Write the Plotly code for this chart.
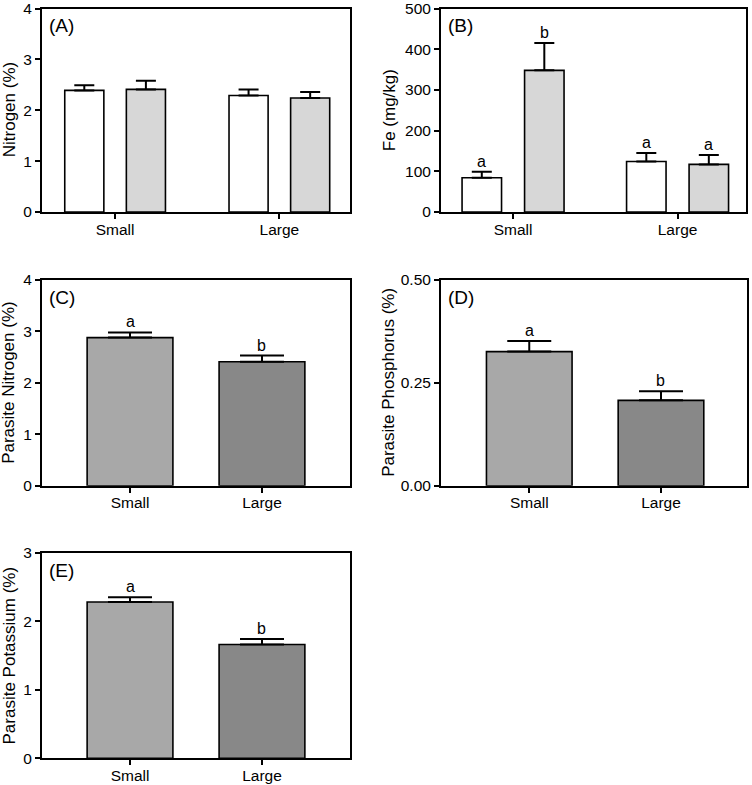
import plotly.graph_objects as go

W, H = 752, 785
FONT = "Liberation Sans, Arial, sans-serif"

categories = ["Small", "Large"]

# Panel A: Nitrogen (%)
a_white = [2.39, 2.29]
a_white_err = [0.10, 0.12]
a_gray = [2.41, 2.24]
a_gray_err = [0.17, 0.12]

# Panel B: Fe (mg/kg)
b_white = [84, 124]
b_white_err = [15, 21]
b_gray = [348, 117]
b_gray_err = [67, 23]
b_white_letters = ["a", "a"]
b_gray_letters = ["b", "a"]

# Panel C: Parasite Nitrogen (%)
c_vals = [2.88, 2.41]
c_err = [0.10, 0.12]
# Panel D: Parasite Phosphorus (%)
d_vals = [0.326, 0.2075]
d_err = [0.026, 0.022]
# Panel E: Parasite Potassium (%)
e_vals = [2.28, 1.66]
e_err = [0.07, 0.08]
cde_letters = ["a", "b"]

WHITE = "#ffffff"
LGRAY = "#d7d7d7"
MGRAY = "#a8a8a8"
DGRAY = "#888888"

TICK_SIZE = 15.5
TITLE_SIZE = 17
LABEL_SIZE = 19
LETTER_SIZE = 16


def px_x(a, b):
    return [a / W, b / W]


def px_y(top, bottom):
    return [1 - bottom / H, 1 - top / H]


panels = {
    "A": dict(x=px_x(42, 350), y=px_y(8.5, 212), yr=[0, 4], ticks=[0, 1, 2, 3, 4],
              ttext=None, xr=[-0.445, 1.43], title="Nitrogen (%)", tx=9),
    "B": dict(x=px_x(441, 746), y=px_y(8.5, 212), yr=[0, 500], ticks=[0, 100, 200, 300, 400, 500],
              ttext=None, xr=[-0.438, 1.416], title="Fe (mg/kg)", tx=389),
    "C": dict(x=px_x(42, 350), y=px_y(280, 485.7), yr=[0, 4], ticks=[0, 1, 2, 3, 4],
              ttext=None, xr=[-0.667, 1.667], title="Parasite Nitrogen (%)", tx=9),
    "D": dict(x=px_x(441, 747), y=px_y(280, 485.7), yr=[0, 0.5], ticks=[0, 0.25, 0.5],
              ttext=["0.00", "0.25", "0.50"], xr=[-0.67, 1.653], title="Parasite Phosphorus (%)", tx=389),
    "E": dict(x=px_x(42, 350), y=px_y(552.7, 758.3), yr=[0, 3], ticks=[0, 1, 2, 3],
              ttext=None, xr=[-0.667, 1.667], title="Parasite Potassium (%)", tx=9),
}
order = ["A", "B", "C", "D", "E"]

fig = go.Figure()
layout = dict(
    template="none",
    width=W, height=H,
    margin=dict(l=0, r=0, t=0, b=0, autoexpand=False),
    paper_bgcolor="white", plot_bgcolor="white",
    showlegend=False,
    font=dict(family=FONT, color="black", size=15),
    barmode="group",
)
annotations = []

for i, key in enumerate(order):
    p = panels[key]
    n = "" if i == 0 else str(i + 1)
    xa, ya = "x" + n, "y" + n
    layout["xaxis" + n] = dict(
        domain=p["x"], anchor=ya, type="category", range=p["xr"], automargin=False,
        showline=True, linecolor="black", linewidth=2, mirror=True,
        ticks="outside", ticklen=5, tickwidth=1.5, tickcolor="black",
        showgrid=False, zeroline=False, fixedrange=True,
        ticklabelstandoff=-3, ticklabeloverflow="allow",
        tickfont=dict(family=FONT, size=TICK_SIZE, color="black"),
    )
    yd = dict(
        domain=p["y"], anchor=xa, range=p["yr"], tickvals=p["ticks"], automargin=False,
        showline=True, linecolor="black", linewidth=2, mirror=True,
        ticks="outside", ticklen=5, tickwidth=1.5, tickcolor="black",
        showgrid=False, zeroline=False, fixedrange=True,
        ticklabeloverflow="allow",
        tickfont=dict(family=FONT, size=TICK_SIZE, color="black"),
    )
    if p["ttext"]:
        yd["ticktext"] = p["ttext"]
    layout["yaxis" + n] = yd
    # y-axis title
    annotations.append(dict(
        text=p["title"], textangle=-90, xref="paper", yref="paper",
        x=p["tx"] / W, y=(p["y"][0] + p["y"][1]) / 2, xanchor="center", yanchor="middle",
        showarrow=False, font=dict(family=FONT, size=TITLE_SIZE, color="black"),
    ))
    # panel label
    annotations.append(dict(
        text="(" + key + ")", xref=xa + " domain", yref=ya + " domain",
        x=0.016, y=0.915, xanchor="left", yanchor="middle",
        showarrow=False, font=dict(family=FONT, size=LABEL_SIZE, color="black"),
    ))


def bar(x, y, err, color, xa, ya, width, offset=None, cap=10):
    kw = {}
    if offset is not None:
        kw["offset"] = offset
    return go.Bar(
        x=x, y=y, xaxis=xa, yaxis=ya, width=width,
        marker=dict(color=color, line=dict(color="black", width=1.6)),
        error_y=dict(type="data", symmetric=False, array=err, arrayminus=[0] * len(err),
                     color="black", thickness=2, width=cap),
        hoverinfo="skip", **kw,
    )


# Panel A
fig.add_trace(bar(categories, a_white, a_white_err, WHITE, "x", "y", 0.238, -0.3065))
fig.add_trace(bar(categories, a_gray, a_gray_err, LGRAY, "x", "y", 0.238, 0.0685))
# Panel B
fig.add_trace(bar(categories, b_white, b_white_err, WHITE, "x2", "y2", 0.24, -0.31))
fig.add_trace(bar(categories, b_gray, b_gray_err, LGRAY, "x2", "y2", 0.24, 0.07))
for j in range(len(categories)):
    annotations.append(dict(text=b_white_letters[j], xref="x2", yref="y2",
                            x=j - 0.19, y=b_white[j] + b_white_err[j], yanchor="bottom",
                            yshift=0, showarrow=False, font=dict(family=FONT, size=LETTER_SIZE)))
    annotations.append(dict(text=b_gray_letters[j], xref="x2", yref="y2",
                            x=j + 0.19, y=b_gray[j] + b_gray_err[j], yanchor="bottom",
                            yshift=0, showarrow=False, font=dict(family=FONT, size=LETTER_SIZE)))

# Panels C, D, E
for vals, errs, xa, ya in [(c_vals, c_err, "x3", "y3"), (d_vals, d_err, "x4", "y4"),
                           (e_vals, e_err, "x5", "y5")]:
    fig.add_trace(go.Bar(
        x=categories, y=vals, xaxis=xa, yaxis=ya, width=0.65,
        marker=dict(color=[MGRAY, DGRAY], line=dict(color="black", width=1.6)),
        error_y=dict(type="data", symmetric=False, array=errs, arrayminus=[0] * len(errs),
                     color="black", thickness=2, width=22),
        hoverinfo="skip",
    ))
    for j in range(len(categories)):
        annotations.append(dict(text=cde_letters[j], xref=xa, yref=ya,
                                x=j, y=vals[j] + errs[j], yanchor="bottom",
                                showarrow=False, font=dict(family=FONT, size=LETTER_SIZE)))

layout["annotations"] = annotations
fig.update_layout(**layout)
fig.write_html(
    "out.html",
    config={"displayModeBar": False},
    post_script="document.body.style.margin='0';document.body.style.overflow='hidden';",
)
